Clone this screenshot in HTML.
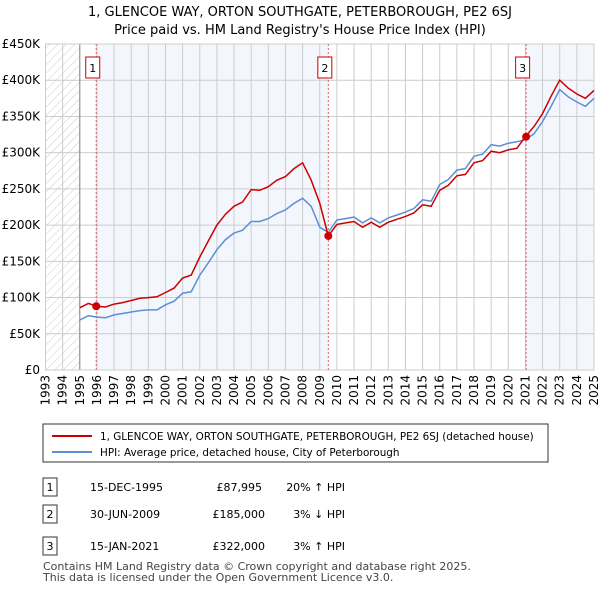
<!DOCTYPE html>
<html><head><meta charset="utf-8"><style>
body{margin:0;background:#fff;font-family:"Liberation Sans","DejaVu Sans",sans-serif;}
svg text{font-family:"DejaVu Sans","Liberation Sans",sans-serif;}
</style></head><body>
<svg id="c" width="600" height="590" viewBox="0 0 600 590" xmlns="http://www.w3.org/2000/svg">
<defs><pattern id="hatch" width="6" height="6" patternUnits="userSpaceOnUse" patternTransform="rotate(45)"><line x1="0" y1="0" x2="0" y2="6" stroke="#ccc" stroke-width="1"/></pattern></defs>
<text x="300" y="16" text-anchor="middle" font-size="13">1, GLENCOE WAY, ORTON SOUTHGATE, PETERBOROUGH, PE2 6SJ</text>
<text x="300" y="34" text-anchor="middle" font-size="13">Price paid vs. HM Land Registry's House Price Index (HPI)</text>
<g id="plot"></g>
<g>
<rect x="43" y="424" width="505" height="38" fill="#fff" stroke="#333"/>
<line x1="52" y1="436" x2="92" y2="436" stroke="#cc0000" stroke-width="2"/>
<text x="100" y="440" font-size="10.4">1, GLENCOE WAY, ORTON SOUTHGATE, PETERBOROUGH, PE2 6SJ (detached house)</text>
<line x1="52" y1="452" x2="92" y2="452" stroke="#5b8fd4" stroke-width="2"/>
<text x="100" y="456" font-size="10.4">HPI: Average price, detached house, City of Peterborough</text>
</g>
<g font-size="11">
<rect x="43" y="478" width="14" height="18" fill="#fff" stroke="#333"/><text x="50" y="491" text-anchor="middle">1</text>
<text x="90" y="491">15-DEC-1995</text><text x="262" y="491" text-anchor="end">£87,995</text><text x="345" y="491" text-anchor="end">20% ↑ HPI</text>
<rect x="43" y="505" width="14" height="18" fill="#fff" stroke="#333"/><text x="50" y="518" text-anchor="middle">2</text>
<text x="90" y="518">30-JUN-2009</text><text x="265" y="518" text-anchor="end">£185,000</text><text x="345" y="518" text-anchor="end">3% ↓ HPI</text>
<rect x="43" y="537" width="14" height="18" fill="#fff" stroke="#333"/><text x="50" y="550" text-anchor="middle">3</text>
<text x="90" y="550">15-JAN-2021</text><text x="265" y="550" text-anchor="end">£322,000</text><text x="345" y="550" text-anchor="end">3% ↑ HPI</text>
</g>
<text x="43" y="570" font-size="11" fill="#444">Contains HM Land Registry data © Crown copyright and database right 2025.</text>
<text x="43" y="581" font-size="11" fill="#444">This data is licensed under the Open Government Licence v3.0.</text>
</svg>
<script>
const years=[];for(let y=1995;y<=2025.001;y+=0.5)years.push(y);
const hpiValues=[69,75,73,72,76,78,80,82,83,83,90,95,106,108,131,148,166,180,189,193,205,205,209,216,221,230,237,226,197,190,207,209,211,203,210,203,210,214,218,223,235,233,256,263,276,278,295,298,311,309,313,315,318,326,343,364,387,377,370,364,375];
const priceValues=[86,92,88,87,91,93,96,99,100,101,107,113,127,131,156,178,200,215,226,232,249,248,253,262,267,278,286,262,230,185,201,203,205,197,204,197,204,208,212,217,228,226,248,255,268,270,286,289,302,300,304,306,322,336,354,378,400,389,381,375,386];
const saleYears=[1995.96,2009.5,2021.04];
const saleValues=[88,185,322];
const saleLabels=["1","2","3"];
const yTicks=[0,50,100,150,200,250,300,350,400,450];
const yTickLabels=["£0","£50K","£100K","£150K","£200K","£250K","£300K","£350K","£400K","£450K"];
const xTicks=[];for(let y=1993;y<=2025;y++)xTicks.push(y);

const X0=45.5,X1=594,Y0=370,Y1=44;
const xs=v=>X0+(v-1993)*(X1-X0)/32;
const ys=v=>Y0-v*(Y0-Y1)/450;
const NS="http://www.w3.org/2000/svg";
const g=document.getElementById('plot');
function mk(t,a){const e=document.createElementNS(NS,t);for(const k in a)e.setAttribute(k,a[k]);g.appendChild(e);return e;}
let e;
e=mk('rect',{x:X0,y:Y1,width:xs(1995)-X0,height:Y0-Y1,fill:'url(#hatch)'});


e=mk('rect',{x:xs(saleYears[0]),y:Y1,width:xs(saleYears[1])-xs(saleYears[0]),height:Y0-Y1,fill:'#eef3fc',opacity:0.7});


e=mk('rect',{x:xs(saleYears[2]),y:Y1,width:X1-xs(saleYears[2]),height:Y0-Y1,fill:'#eef3fc',opacity:0.7});


xTicks.forEach(t=>{
 e=mk('line',{x1:xs(t),x2:xs(t),y1:Y1,y2:Y0,stroke:'#ccc'});
 
 
 e=mk('text',{x:0,y:0,'font-size':12,'text-anchor':'end',transform:`translate(${xs(t)+4},${Y0+5}) rotate(-90)`});
 e.textContent=t;
 
 
});
yTicks.forEach((t,i)=>{
 e=mk('line',{x1:X0,x2:X1,y1:ys(t),y2:ys(t),stroke:'#ccc'});
 
 
 e=mk('text',{x:40,y:ys(t)+4,'font-size':12,'text-anchor':'end'});
 e.textContent=yTickLabels[i];
 
 
});
e=mk('line',{x1:xs(1995),x2:xs(1995),y1:Y1,y2:Y0,stroke:'#888'});


e=mk('rect',{x:X0,y:Y1,width:X1-X0,height:Y0-Y1,fill:'none',stroke:'#ccc'});


saleYears.forEach((s,i)=>{
 e=mk('line',{x1:xs(s),x2:xs(s),y1:Y1,y2:Y0,stroke:'#e06060','stroke-dasharray':'2,2'});
 
 
 e=mk('rect',{x:xs(s)-10.5,y:57,width:14,height:21,fill:'#fff',stroke:'#cc0000'});
 
 
 e=mk('text',{x:xs(s)-3.5,y:72,'font-size':11,'text-anchor':'middle'});
 e.textContent=saleLabels[i];
 
 
});
const pts=a=>a.map((v,i)=>xs(years[i]).toFixed(1)+','+ys(v).toFixed(1)).join(' ');
e=mk('polyline',{points:pts(hpiValues),fill:'none',stroke:'#5b8fd4','stroke-width':1.5});


e=mk('polyline',{points:pts(priceValues),fill:'none',stroke:'#cc0000','stroke-width':1.5});


saleYears.forEach((s,i)=>{
 e=mk('circle',{cx:xs(s),cy:ys(saleValues[i]),r:4,fill:'#cc0000'});
 
 
});
</script>
</body></html>
